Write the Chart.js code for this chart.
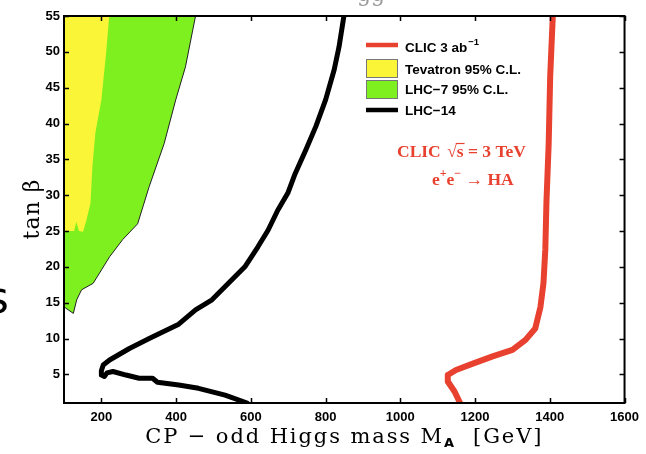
<!DOCTYPE html>
<html>
<head>
<meta charset="utf-8">
<script src="https://cdn.jsdelivr.net/npm/chart.js@4.4.0/dist/chart.umd.min.js"></script>
<style>
  body { margin: 0; background: #fff; }
  #wrap { width: 646px; height: 454px; }
</style>
</head>
<body>
<div id="wrap"><canvas id="higgsChart" width="646" height="454"></canvas></div>
<script>
// tick labels
const xTicks = [200, 400, 600, 800, 1000, 1200, 1400, 1600];
const yTicks = [5, 10, 15, 20, 25, 30, 35, 40, 45, 50, 55];

// CLIC 3 ab^-1 reach (M_A, tan beta)
const clicMass = [1408, 1401, 1397, 1391, 1388, 1383, 1375, 1361, 1335, 1300, 1247, 1194, 1149, 1127, 1127, 1145, 1160];
const clicTanb = [55, 46.5, 37.2, 29, 22.4, 17.7, 14.4, 11.4, 9.8, 8.4, 7.5, 6.5, 5.6, 4.9, 4.0, 2.6, 1.0];

// Tevatron 95% C.L. excluded region (closed outline)
const tevMass = [100, 221, 213, 200, 184, 176, 171, 160, 151, 140, 133, 127, 100];
const tevTanb = [55, 55, 50, 43.3, 38.7, 34, 28.9, 26.5, 24.9, 25.0, 26.3, 25.0, 25.0];

// LHC-7 95% C.L. excluded region (closed outline)
const lhc7Mass = [100, 452, 425, 399, 368, 328, 297, 257, 222, 178, 147, 134, 125, 103, 100];
const lhc7Tanb = [55, 55, 47.9, 43.3, 37.2, 31.2, 26, 23.8, 21.4, 17.7, 16.8, 15.4, 13.5, 14.3, 14.3];

// LHC-14 reach
const lhc14Mass = [849, 836, 823, 800, 774, 747, 717, 699, 672, 646, 619, 584, 540, 496, 452, 407, 328, 275, 222, 205, 200, 200, 208, 215, 231, 266, 301, 337, 350, 407, 460, 531, 590];
const lhc14Tanb = [55, 50.7, 47.5, 43.3, 39.6, 36.3, 32.8, 30.3, 27.9, 25.1, 22.8, 20, 17.7, 15.4, 14, 12.0, 10, 8.6, 7.0, 6.3, 5.5, 4.9, 4.7, 5.2, 5.4, 4.9, 4.45, 4.45, 3.9, 3.5, 3.05, 2.1, 1.0];

const RED = '#e8412f';
const YELLOW = '#fbf538';
const GREEN = '#7ef01f';

function toPoints(xs, ys) {
    return xs.map((x, i) => ({ x: x, y: ys[i] }));
}

// frame with inward ticks, legend and all the labels
const decorations = {
    id: 'decorations',
    afterDraw(chart) {
        const ctx = chart.ctx;
        const ca = chart.chartArea;
        const sx = chart.scales.x;
        const sy = chart.scales.y;
        ctx.save();

        ctx.strokeStyle = '#000';
        ctx.lineWidth = 2;
        ctx.strokeRect(ca.left, ca.top, ca.right - ca.left, ca.bottom - ca.top);
        ctx.beginPath();
        xTicks.forEach(v => {
            const px = Math.round(sx.getPixelForValue(v)) + 0.5;
            ctx.moveTo(px, ca.bottom); ctx.lineTo(px, ca.bottom - 5);
            ctx.moveTo(px, ca.top); ctx.lineTo(px, ca.top + 5);
        });
        yTicks.forEach(v => {
            const py = Math.round(sy.getPixelForValue(v)) + 0.5;
            ctx.moveTo(ca.left, py); ctx.lineTo(ca.left + 5, py);
            ctx.moveTo(ca.right, py); ctx.lineTo(ca.right - 5, py);
        });
        ctx.lineWidth = 1.5;
        ctx.stroke();

        // legend
        const lx = 366, lw = 32;
        ctx.font = 'bold 13.5px "Liberation Sans", Arial, sans-serif';
        ctx.textBaseline = 'middle';
        ctx.textAlign = 'left';
        ctx.fillStyle = '#000';

        ctx.lineWidth = 4.5;
        ctx.strokeStyle = RED;
        ctx.beginPath(); ctx.moveTo(lx, 45); ctx.lineTo(lx + lw, 45); ctx.stroke();
        ctx.fillText('CLIC 3 ab', 405, 48);
        let w = ctx.measureText('CLIC 3 ab').width;
        ctx.font = 'bold 9.5px "Liberation Sans", Arial, sans-serif';
        ctx.fillText('\u22121', 405 + w + 1, 42);

        ctx.font = 'bold 13.5px "Liberation Sans", Arial, sans-serif';
        ctx.lineWidth = 1;
        ctx.strokeStyle = '#777';
        ctx.fillStyle = YELLOW;
        ctx.fillRect(lx, 59, lw, 19);
        ctx.strokeRect(lx + 0.5, 59.5, lw - 1, 18);
        ctx.fillStyle = GREEN;
        ctx.fillRect(lx, 80, lw, 19);
        ctx.strokeRect(lx + 0.5, 80.5, lw - 1, 18);
        ctx.fillStyle = '#000';
        ctx.fillText('Tevatron 95% C.L.', 405, 70);
        ctx.fillText('LHC\u22127 95% C.L.', 405, 90);

        ctx.lineWidth = 4.5;
        ctx.strokeStyle = '#000';
        ctx.beginPath(); ctx.moveTo(lx, 110); ctx.lineTo(lx + lw, 110); ctx.stroke();
        ctx.fillText('LHC\u221214', 405, 111);

        // process annotation
        ctx.fillStyle = RED;
        ctx.strokeStyle = RED;
        ctx.textBaseline = 'alphabetic';
        const big = 'bold 17.5px "Liberation Serif", "Times New Roman", serif';
        const small = 'bold 12px "Liberation Serif", "Times New Roman", serif';
        ctx.font = big;
        let x = 397;
        ctx.fillText('CLIC ', x, 157); x += ctx.measureText('CLIC ').width + 2;
        ctx.fillText('\u221a', x, 157); x += ctx.measureText('\u221a').width;
        ctx.lineWidth = 1.2;
        ctx.beginPath(); ctx.moveTo(x - 1, 143.5); ctx.lineTo(x + ctx.measureText('s').width + 1, 143.5); ctx.stroke();
        ctx.fillText('s = 3 TeV', x, 157);

        x = 432;
        ctx.fillText('e', x, 185); x += ctx.measureText('e').width;
        ctx.font = small;
        ctx.fillText('+', x, 177); x += ctx.measureText('+').width;
        ctx.font = big;
        ctx.fillText('e', x, 185); x += ctx.measureText('e').width;
        ctx.font = small;
        ctx.fillText('\u2212', x, 177); x += ctx.measureText('\u2212').width;
        ctx.font = big;
        ctx.fillText(' \u2192 HA', x, 185);

        // axis titles
        ctx.fillStyle = '#000';
        ctx.letterSpacing = '1.9px';
        const tFont = '21px "DejaVu Serif", serif';
        const sFont = 'bold 13px "DejaVu Sans", sans-serif';
        ctx.font = tFont;
        const p1 = 'CP \u2212 odd Higgs mass M';
        const p2 = '  [GeV]';
        const w1 = ctx.measureText(p1).width;
        const w3 = ctx.measureText(p2).width;
        ctx.font = sFont;
        const w2 = ctx.measureText('A').width;
        let tx = (ca.left + ca.right) / 2 - (w1 + w2 + w3) / 2;
        ctx.font = tFont;
        ctx.fillText(p1, tx, 443); tx += w1;
        ctx.font = sFont;
        ctx.fillText('A', tx, 447); tx += w2;
        ctx.font = tFont;
        ctx.fillText(p2, tx, 443);

        ctx.letterSpacing = '1px';
        ctx.save();
        ctx.translate(39, 209);
        ctx.rotate(-Math.PI / 2);
        ctx.textAlign = 'center';
        ctx.font = '22px "DejaVu Serif", serif';
        ctx.fillText('tan \u03b2', 0, 0);
        ctx.restore();
        ctx.letterSpacing = '0px';

        // fragments of the surrounding slide
        ctx.font = '44px "DejaVu Sans", sans-serif';
        ctx.fillText('s', -14, 313);
        ctx.fillStyle = '#999';
        ctx.font = '22px "DejaVu Serif", serif';
        ctx.fillText('gg', 357, 1);

        ctx.restore();
    }
};

const ctx = document.getElementById('higgsChart').getContext('2d');
new Chart(ctx, {
    type: 'scatter',
    data: {
        datasets: [{
            label: 'CLIC 3 ab-1',
            data: toPoints(clicMass, clicTanb),
            showLine: true,
            borderColor: RED,
            borderWidth: 6,
            borderCapStyle: 'round',
            borderJoinStyle: 'round',
            pointRadius: 0,
            fill: false,
            order: 1
        }, {
            label: 'Tevatron 95% C.L.',
            data: toPoints(tevMass, tevTanb),
            showLine: true,
            borderWidth: 0,
            borderColor: YELLOW,
            backgroundColor: YELLOW,
            pointRadius: 0,
            fill: 'shape',
            order: 3
        }, {
            label: 'LHC-7 95% C.L.',
            data: toPoints(lhc7Mass, lhc7Tanb),
            showLine: true,
            borderWidth: 1,
            borderColor: '#222',
            backgroundColor: GREEN,
            pointRadius: 0,
            fill: 'shape',
            order: 4
        }, {
            label: 'LHC-14',
            data: toPoints(lhc14Mass, lhc14Tanb),
            showLine: true,
            borderColor: '#000',
            borderWidth: 5,
            borderCapStyle: 'round',
            borderJoinStyle: 'round',
            pointRadius: 0,
            fill: false,
            order: 2
        }]
    },
    options: {
        responsive: false,
        animation: false,
        layout: { padding: { top: 16, right: 16, left: 0, bottom: 0 } },
        plugins: {
            legend: { display: false },
            tooltip: { enabled: false }
        },
        scales: {
            x: {
                type: 'linear',
                min: 100,
                max: 1600,
                grid: { display: false, drawTicks: false },
                border: { display: false },
                afterBuildTicks: s => { s.ticks = xTicks.map(v => ({ value: v })); },
                afterFit: s => { s.height = 51; },
                ticks: {
                    color: '#000',
                    padding: 7,
                    maxRotation: 0,
                    callback: v => String(v),
                    font: { family: '"Liberation Sans", Arial, sans-serif', size: 13, weight: 'bold' }
                }
            },
            y: {
                type: 'linear',
                min: 1,
                max: 55,
                grid: { display: false, drawTicks: false },
                border: { display: false },
                afterBuildTicks: s => { s.ticks = yTicks.map(v => ({ value: v })); },
                afterFit: s => { s.width = 64; },
                ticks: {
                    color: '#000',
                    padding: 4,
                    callback: v => String(v),
                    font: { family: '"Liberation Sans", Arial, sans-serif', size: 13, weight: 'bold' }
                }
            }
        }
    },
    plugins: [decorations]
});
</script>
</body>
</html>
